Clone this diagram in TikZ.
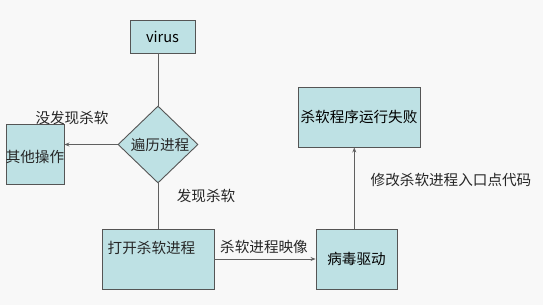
\documentclass[tikz,border=0pt]{standalone}
\usepackage{fontspec}
\setmainfont{Noto Sans CJK SC}
\usetikzlibrary{shapes.geometric,arrows.meta}
\definecolor{boxfill}{HTML}{BEE1E4}
\definecolor{boxline}{HTML}{555555}
\definecolor{conn}{HTML}{606060}
\definecolor{bg}{HTML}{F8F8F8}
\begin{document}
\begin{tikzpicture}[x=1pt,y=-1pt,
  font=\fontsize{14.6}{16}\selectfont,
  box/.style={draw=boxline,line width=0.9pt,fill=boxfill,inner sep=0pt,anchor=center},
  dia/.style={draw=boxline,line width=0.9pt,fill=boxfill,shape=diamond,inner sep=0pt,minimum width=80pt,minimum height=77pt,aspect=1.04},
  conn/.style={draw=conn,line width=0.9pt},
  arr/.style={conn,-{Stealth[length=5pt,width=4pt]}},
  lbl/.style={inner sep=0pt,text=black!85}]
\fill[bg] (0,0) rectangle (543,305);
\useasboundingbox (0,0) rectangle (543,305);
% nodes
\node[box,minimum width=65pt,minimum height=33pt] (virus) at (162.5,36.5) {virus};
\node[dia] (trav) at (158,144.5) {};
\node[lbl] (travt) at (160,145) {遍历进程};
\node[box,minimum width=58pt,minimum height=60pt] (other) at (35,154) {};
\node[lbl] (othert) at (35,157) {其他操作};
\node[box,minimum width=112pt,minimum height=60pt] (open) at (158,259) {};
\node[lbl,anchor=west] (opent) at (107.5,248) {打开杀软进程};
\node[box,minimum width=81pt,minimum height=60pt] (drv) at (356.5,259) {病毒驱动};
\node[box,minimum width=122pt,minimum height=60pt] (fail) at (359,117) {杀软程序运行失败};
% labels
\node[lbl] (l1) at (72,118) {没发现杀软};
\node[lbl] (l2) at (206,196) {发现杀软};
\node[lbl] (l3) at (264,247) {杀软进程映像};
\node[lbl] (l4) at (451,180) {修改杀软进程入口点代码};
% connectors
\draw[conn] (trav.north) -- (trav.north |- virus.south);
\draw[arr] (trav.west) -- (trav.west -| other.east);
\draw[conn] (trav.south) -- (open.north);
\draw[arr] (open.east) -- (drv.west);
\coordinate (up) at (354.3,0);
\draw[arr] (drv.north -| up) -- (fail.south -| up);
\end{tikzpicture}
\end{document}
